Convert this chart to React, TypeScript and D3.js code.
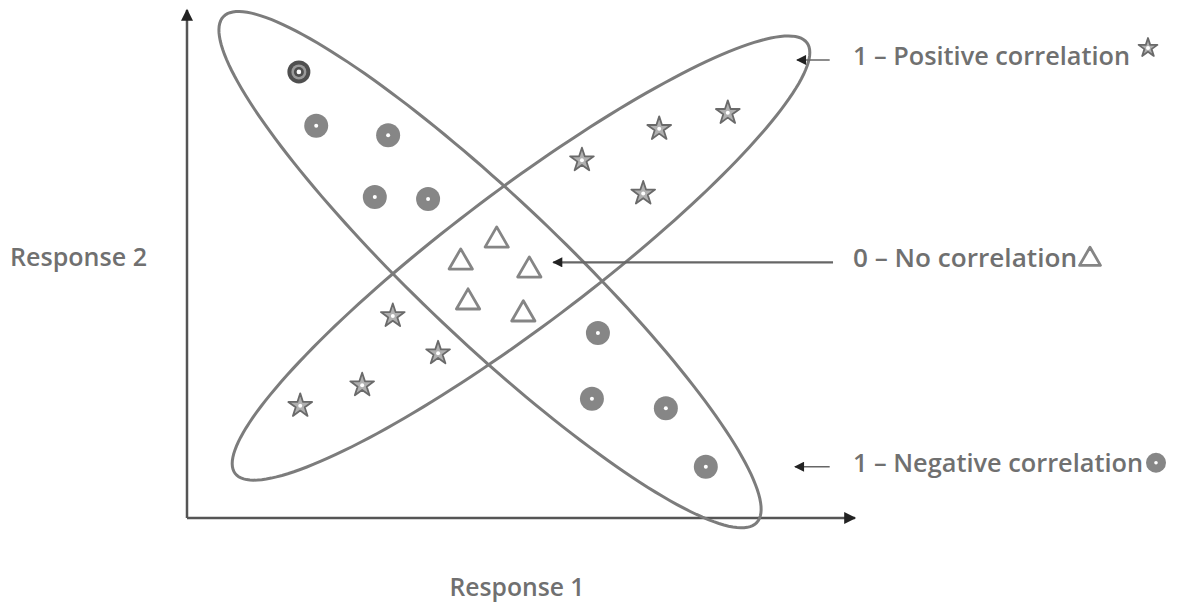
import React from "react";
import * as d3 from "d3";

// Negative-correlation points (circles)
const negX = [16.8, 19.4, 30.2, 28.2, 36.2, 61.7, 60.8, 71.9, 77.9];
const negY = [67.0, 58.9, 57.5, 48.2, 47.9, 27.8, 17.9, 16.5, 7.7];
// Positive-correlation points (stars)
const posX = [59.3, 70.9, 81.2, 68.5, 30.9, 37.7, 26.3, 17.0];
const posY = [53.9, 58.6, 61.0, 48.9, 30.5, 24.9, 20.1, 17.0];
// No-correlation points (triangles)
const noX = [46.5, 41.1, 51.4, 42.2, 50.5];
const noY = [41.7, 38.4, 37.2, 32.4, 30.6];

// Enclosing ellipses
const ellipseNames = ["negative", "positive"];
const ellipseCX = [45.5, 50.15];
const ellipseCY = [37.3, 39.04];
const ellipseA = [55.2, 53.75];
const ellipseB = [10.66, 10.21];
const ellipseAngle = [-43.5, 37];

// Annotations
const labels = ["1 – Positive correlation", "0 – No correlation", "1 – Negative correlation"];
const labelWidths = [277, 224, 290];
const arrowFromX = [96.5, 97.0, 96.5];
const arrowToX = [91.6, 55.0, 91.3];
const arrowY = [68.8, 38.4, 7.7];
const axisLabels = ["Response 1", "Response 2"];

const W = 1178;
const H = 603;

export default function App() {
  const x = d3.scaleLinear().domain([0, 100]).range([187, 853]);
  const y = d3.scaleLinear().domain([0, 76]).range([518, 12]);

  const ellipsePath = (i: number) => {
    const n = 180;
    const th = (ellipseAngle[i] * Math.PI) / 180;
    const pts: [number, number][] = d3.range(n).map((k) => {
      const t = (k / n) * 2 * Math.PI;
      const ex = ellipseA[i] * Math.cos(t);
      const ey = ellipseB[i] * Math.sin(t);
      return [
        ellipseCX[i] + ex * Math.cos(th) - ey * Math.sin(th),
        ellipseCY[i] + ex * Math.sin(th) + ey * Math.cos(th),
      ];
    });
    return d3
      .line<[number, number]>()
      .x((d) => x(d[0]))
      .y((d) => y(d[1]))
      .curve(d3.curveLinearClosed)(pts) as string;
  };

  const star = d3.symbol().type(d3.symbolStar).size(175)() as string;
  const starSmall = d3.symbol().type(d3.symbolStar).size(110)() as string;
  const tri = d3.symbol().type(d3.symbolTriangle).size(235)() as string;
  const triSmall = d3.symbol().type(d3.symbolTriangle).size(190)() as string;

  const font = "'Open Sans', 'DejaVu Sans', sans-serif";
  const textFill = "#707070";

  const Star = ({ cx, cy, d }: { cx: number; cy: number; d: string }) => (
    <g transform={`translate(${cx},${cy + 1})`}>
      <path d={d} fill="#b0b0b0" stroke="#6a6a6a" strokeWidth={1.8} strokeLinejoin="round" />
      <circle r={2} fill="#fff" />
    </g>
  );
  const Tri = ({ cx, cy, d }: { cx: number; cy: number; d: string }) => (
    <g transform={`translate(${cx},${cy})`}>
      <path d={d} fill="#fff" stroke="#858585" strokeWidth={2.8} strokeLinejoin="round" />
    </g>
  );

  return (
    <svg width={W} height={H} style={{ position: "absolute", left: 0, top: 0, background: "#fff" }}>
      <defs>
        <marker id="ah" viewBox="0 0 10 10" refX="9" refY="5" markerWidth="14" markerHeight="12" orient="auto-start-reverse" markerUnits="userSpaceOnUse">
          <path d="M0,0 L10,5 L0,10 z" fill="#222" />
        </marker>
        <marker id="ah2" viewBox="0 0 10 10" refX="9" refY="5" markerWidth="12" markerHeight="10" orient="auto-start-reverse" markerUnits="userSpaceOnUse">
          <path d="M0,0 L10,5 L0,10 z" fill="#222" />
        </marker>
      </defs>

      {/* axes */}
      <line x1={x(0)} y1={y(0)} x2={x(0)} y2={y(76) - 2} stroke="#555" strokeWidth={2.5} markerEnd="url(#ah)" />
      <line x1={x(0)} y1={y(0)} x2={x(100) + 2} y2={y(0)} stroke="#555" strokeWidth={2.5} markerEnd="url(#ah)" />

      {/* ellipses */}
      {ellipseNames.map((nm, i) => (
        <path key={nm} d={ellipsePath(i)} fill="none" stroke="#7c7c7c" strokeWidth={3} />
      ))}

      {/* negative points */}
      {negX.map((v, i) => (
        <g key={"n" + i} transform={`translate(${x(v)},${y(negY[i])})`}>
          {i === 0 ? (
            <>
              <circle r={11.5} fill="#4f4f4f" />
              <circle r={7.5} fill="#9a9a9a" />
              <circle r={5} fill="#4f4f4f" />
              <circle r={2.3} fill="#fff" />
            </>
          ) : (
            <>
              <circle r={12} fill="#868686" />
              <circle r={2} fill="#fff" />
            </>
          )}
        </g>
      ))}

      {/* positive points */}
      {posX.map((v, i) => (
        <Star key={"p" + i} cx={x(v)} cy={y(posY[i])} d={star} />
      ))}

      {/* no-correlation points */}
      {noX.map((v, i) => (
        <Tri key={"t" + i} cx={x(v)} cy={y(noY[i])} d={tri} />
      ))}

      {/* annotation arrows and labels */}
      {labels.map((lb, i) => (
        <g key={"a" + i}>
          <line
            x1={x(arrowFromX[i])}
            y1={y(arrowY[i])}
            x2={x(arrowToX[i])}
            y2={y(arrowY[i])}
            stroke="#666"
            strokeWidth={i === 1 ? 2.2 : 1.6}
            markerEnd="url(#ah2)"
          />
          <text
            x={853}
            y={y(arrowY[i]) + 5}
            fontFamily={font}
            fontSize={25}
            fontWeight={600}
            fill={textFill}
            textLength={labelWidths[i]}
            lengthAdjust="spacingAndGlyphs"
          >
            {lb}
          </text>
        </g>
      ))}
      <Star cx={853 + labelWidths[0] + 18} cy={y(arrowY[0]) - 13} d={starSmall} />
      <Tri cx={853 + labelWidths[1] + 13} cy={y(arrowY[1]) - 3} d={triSmall} />
      <g transform={`translate(${853 + labelWidths[2] + 13},${y(arrowY[2]) - 4})`}>
        <circle r={10} fill="#868686" />
        <circle r={1.8} fill="#fff" />
      </g>

      {/* axis titles */}
      <text x={517} y={596} textAnchor="middle" fontFamily={font} fontSize={25} fontWeight={600} fill={textFill} textLength={135} lengthAdjust="spacingAndGlyphs">
        {axisLabels[0]}
      </text>
      <text x={10} y={266} fontFamily={font} fontSize={25} fontWeight={600} fill={textFill} textLength={137} lengthAdjust="spacingAndGlyphs">
        {axisLabels[1]}
      </text>
    </svg>
  );
}
